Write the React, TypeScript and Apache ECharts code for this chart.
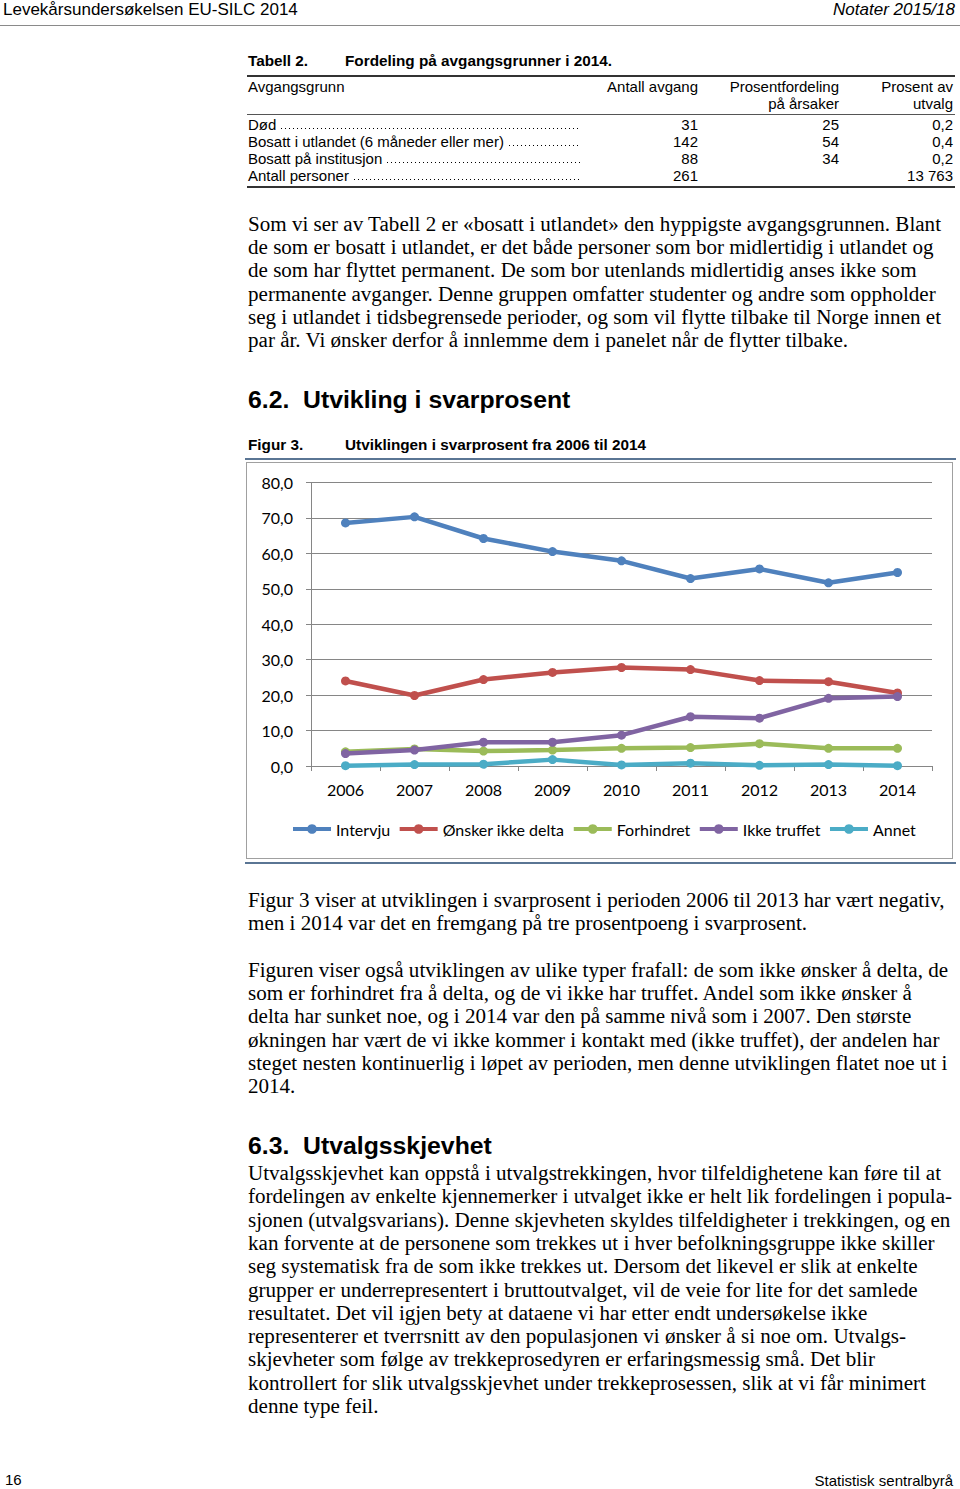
import React, { useEffect, useRef } from 'react';
import * as echarts from 'echarts';

const years = ['2006', '2007', '2008', '2009', '2010', '2011', '2012', '2013', '2014'];
const intervju = [68.6, 70.3, 64.2, 60.5, 57.9, 52.9, 55.6, 51.7, 54.6];
const onskerIkke = [24.0, 19.9, 24.4, 26.4, 27.8, 27.2, 24.1, 23.8, 20.6];
const forhindret = [4.0, 4.8, 4.2, 4.5, 5.0, 5.2, 6.3, 5.0, 5.0];
const ikkeTruffet = [3.5, 4.5, 6.7, 6.7, 8.7, 13.9, 13.5, 19.1, 19.6];
const annet = [0.1, 0.4, 0.5, 1.8, 0.3, 0.8, 0.2, 0.4, 0.1];
const seriesNames = ['Intervju', 'Ønsker ikke delta', 'Forhindret', 'Ikke truffet', 'Annet'];
const seriesColors = ['#4F81BD', '#C0504D', '#9BBB59', '#8064A2', '#4BACC6'];

const tableHeader = ['Avgangsgrunn', 'Antall avgang', 'Prosentfordeling', 'Prosent av'];
const tableHeader2 = ['', '', 'på årsaker', 'utvalg'];
const tableLabels = ['Død', 'Bosatt i utlandet (6 måneder eller mer)', 'Bosatt på institusjon', 'Antall personer'];
const tableAntall = ['31', '142', '88', '261'];
const tableFordeling = ['25', '54', '34', ''];
const tableProsent = ['0,2', '0,4', '0,2', '13 763'];

const para1 = [
  'Som vi ser av Tabell 2 er «bosatt i utlandet» den hyppigste avgangsgrunnen. Blant',
  'de som er bosatt i utlandet, er det både personer som bor midlertidig i utlandet og',
  'de som har flyttet permanent. De som bor utenlands midlertidig anses ikke som',
  'permanente avganger. Denne gruppen omfatter studenter og andre som oppholder',
  'seg i utlandet i tidsbegrensede perioder, og som vil flytte tilbake til Norge innen et',
  'par år. Vi ønsker derfor å innlemme dem i panelet når de flytter tilbake.',
];
const para2 = [
  'Figur 3 viser at utviklingen i svarprosent i perioden 2006 til 2013 har vært negativ,',
  'men i 2014 var det en fremgang på tre prosentpoeng i svarprosent.',
];
const para3 = [
  'Figuren viser også utviklingen av ulike typer frafall: de som ikke ønsker å delta, de',
  'som er forhindret fra å delta, og de vi ikke har truffet. Andel som ikke ønsker å',
  'delta har sunket noe, og i 2014 var den på samme nivå som i 2007. Den største',
  'økningen har vært de vi ikke kommer i kontakt med (ikke truffet), der andelen har',
  'steget nesten kontinuerlig i løpet av perioden, men denne utviklingen flatet noe ut i',
  '2014.',
];
const para4 = [
  'Utvalgsskjevhet kan oppstå i utvalgstrekkingen, hvor tilfeldighetene kan føre til at',
  'fordelingen av enkelte kjennemerker i utvalget ikke er helt lik fordelingen i popula-',
  'sjonen (utvalgsvarians). Denne skjevheten skyldes tilfeldigheter i trekkingen, og en',
  'kan forvente at de personene som trekkes ut i hver befolkningsgruppe ikke skiller',
  'seg systematisk fra de som ikke trekkes ut. Dersom det likevel er slik at enkelte',
  'grupper er underrepresentert i bruttoutvalget, vil de veie for lite for det samlede',
  'resultatet. Det vil igjen bety at dataene vi har etter endt undersøkelse ikke',
  'representerer et tverrsnitt av den populasjonen vi ønsker å si noe om. Utvalgs-',
  'skjevheter som følge av trekkeprosedyren er erfaringsmessig små. Det blir',
  'kontrollert for slik utvalgsskjevhet under trekkeprosessen, slik at vi får minimert',
  'denne type feil.',
];

const SANS = '"Liberation Sans", Arial, sans-serif';
const SERIF = '"Liberation Serif", "Times New Roman", serif';
const CHART_FONT = 'Lato, "Open Sans", sans-serif';

type TProps = {
  x?: number; y: number; size: number; text: string; font?: string;
  bold?: boolean; italic?: boolean; right?: number; color?: string; sx?: number;
};

function T({ x, y, size, text, font = SERIF, bold, italic, right, color = '#000', sx }: TProps) {
  const style: any = {
    position: 'absolute', top: y - size / 2, fontSize: size, lineHeight: 1,
    fontFamily: font, whiteSpace: 'pre', color,
    fontWeight: bold ? 700 : 400, fontStyle: italic ? 'italic' : 'normal',
  };
  if (right !== undefined) style.right = 960 - right; else style.left = x;
  if (sx) { style.transform = `scaleX(${sx})`; style.transformOrigin = right !== undefined ? 'right center' : 'left center'; }
  return <div style={style}>{text}</div>;
}

function Para({ lines, y0, step }: { lines: string[]; y0: number; step: number }) {
  return (
    <>
      {lines.map((l, i) => (
        <T key={i} x={248} y={y0 + i * step} size={20} sx={1.053} text={l} />
      ))}
    </>
  );
}

function HLine({ x, y, w, h, color }: { x: number; y: number; w: number; h: number; color: string }) {
  return <div style={{ position: 'absolute', left: x, top: y, width: w, height: h, background: color }} />;
}

function Chart() {
  const ref = useRef<HTMLDivElement>(null);
  useEffect(() => {
    const chart = echarts.init(ref.current!, null, { renderer: 'svg' });
    const datasets = [intervju, onskerIkke, forhindret, ikkeTruffet, annet];
    chart.setOption({
      animation: false,
      grid: { left: 64, top: 19.5, width: 621, height: 283.5 },
      legend: {
        data: seriesNames,
        left: 44,
        top: 358,
        padding: 0,
        itemWidth: 38,
        itemHeight: 12,
        itemGap: 7.5,
        lineStyle: { width: 4 },
        textStyle: { fontFamily: CHART_FONT, fontSize: 16, color: '#000' },
      },
      xAxis: {
        type: 'category',
        data: years,
        boundaryGap: true,
        axisLine: { lineStyle: { color: '#868686', width: 1 } },
        axisTick: { show: true, length: 5, lineStyle: { color: '#868686' } },
        axisLabel: { fontFamily: CHART_FONT, fontSize: 16, color: '#000', margin: 15 },
      },
      yAxis: {
        type: 'value',
        min: 0,
        max: 80,
        interval: 10,
        axisLine: { show: true, lineStyle: { color: '#868686', width: 1 } },
        axisTick: { show: true, length: 5, lineStyle: { color: '#868686' } },
        splitLine: { lineStyle: { color: '#868686', width: 1 } },
        axisLabel: {
          fontFamily: CHART_FONT, fontSize: 16, color: '#000', margin: 18,
          formatter: (v: number) => v.toFixed(1).replace('.', ','),
        },
      },
      series: seriesNames.map((name, i) => ({
        name,
        type: 'line',
        data: datasets[i],
        symbol: 'circle',
        symbolSize: 9,
        lineStyle: { width: 4.5, color: seriesColors[i] },
        itemStyle: { color: seriesColors[i] },
        z: 2 + i,
      })),
    });
    return () => chart.dispose();
  }, []);
  return <div ref={ref} style={{ position: 'absolute', left: 0, top: 0, width: 705, height: 395 }} />;
}

const TS = 15;

export default function App() {
  const rowY = (i: number) => 124 + i * 17;
  return (
    <div style={{ position: 'absolute', left: 0, top: 0, width: 960, height: 1489, background: '#fff', overflow: 'hidden' }}>
      {/* page header */}
      <T x={3} y={9} size={17} font={SANS} text="Levekårsundersøkelsen EU-SILC 2014" />
      <T right={955} y={9} size={17} font={SANS} italic text="Notater 2015/18" />
      <HLine x={0} y={25} w={960} h={1} color="#8a8a8a" />

      {/* table */}
      <T x={248} y={61} size={15.3} font={SANS} bold text="Tabell 2." />
      <T x={345} y={61} size={15.3} font={SANS} bold text="Fordeling på avgangsgrunner i 2014." />
      <HLine x={247} y={75} w={708} h={2} color="#333" />
      <T x={248} y={86} size={TS} font={SANS} text={tableHeader[0]} />
      <T right={698} y={86} size={TS} font={SANS} text={tableHeader[1]} />
      <T right={839} y={86} size={TS} font={SANS} text={tableHeader[2]} />
      <T right={953} y={86} size={TS} font={SANS} text={tableHeader[3]} />
      <T right={839} y={103} size={TS} font={SANS} text={tableHeader2[2]} />
      <T right={953} y={103} size={TS} font={SANS} text={tableHeader2[3]} />
      <HLine x={247} y={114} w={708} h={1} color="#555" />
      {tableLabels.map((lab, i) => (
        <div key={'l' + i} style={{
          position: 'absolute', left: 248, top: rowY(i) - TS / 2, width: 333, height: TS,
          display: 'flex', alignItems: 'flex-end',
        }}>
          <span style={{ fontFamily: SANS, fontSize: TS, lineHeight: 1, whiteSpace: 'pre', color: '#000' }}>{lab}</span>
          <div style={{
            flex: 1, marginLeft: 5, height: 1.5, marginBottom: 2.5,
            backgroundImage: 'linear-gradient(to right, #000 1.3px, transparent 1.3px)',
            backgroundSize: '4px 1.5px',
          }} />
        </div>
      ))}
      {tableAntall.map((v, i) => <T key={'a' + i} right={698} y={rowY(i)} size={TS} font={SANS} text={v} />)}
      {tableFordeling.map((v, i) => <T key={'f' + i} right={839} y={rowY(i)} size={TS} font={SANS} text={v} />)}
      {tableProsent.map((v, i) => <T key={'p' + i} right={953} y={rowY(i)} size={TS} font={SANS} text={v} />)}
      <HLine x={247} y={186} w={708} h={2} color="#333" />

      <Para lines={para1} y0={224} step={23.2} />

      {/* heading 6.2 */}
      <T x={248} y={400} size={24.8} font={SANS} bold text="6.2." />
      <T x={303} y={400} size={24.8} font={SANS} bold text="Utvikling i svarprosent" />

      <T x={248} y={445} size={15.3} font={SANS} bold text="Figur 3." />
      <T x={345} y={445} size={15.3} font={SANS} bold text="Utviklingen i svarprosent fra 2006 til 2014" />

      <HLine x={245} y={458} w={711} h={2} color="#5a7594" />
      <div style={{ position: 'absolute', left: 246, top: 462, width: 707, height: 397, border: '1px solid #a0a0a0', boxSizing: 'border-box' }}>
        <Chart />
      </div>
      <HLine x={245} y={862} w={711} h={2} color="#5a7594" />

      <Para lines={para2} y0={900} step={23.2} />
      <Para lines={para3} y0={970} step={23.2} />

      <T x={248} y={1146} size={24.8} font={SANS} bold text="6.3." />
      <T x={303} y={1146} size={24.8} font={SANS} bold text="Utvalgsskjevhet" />
      <Para lines={para4} y0={1173} step={23.3} />

      {/* footer */}
      <T x={5} y={1479} size={15} font={SANS} text="16" />
      <T right={953} y={1480} size={15} font={SANS} text="Statistisk sentralbyrå" />
    </div>
  );
}
